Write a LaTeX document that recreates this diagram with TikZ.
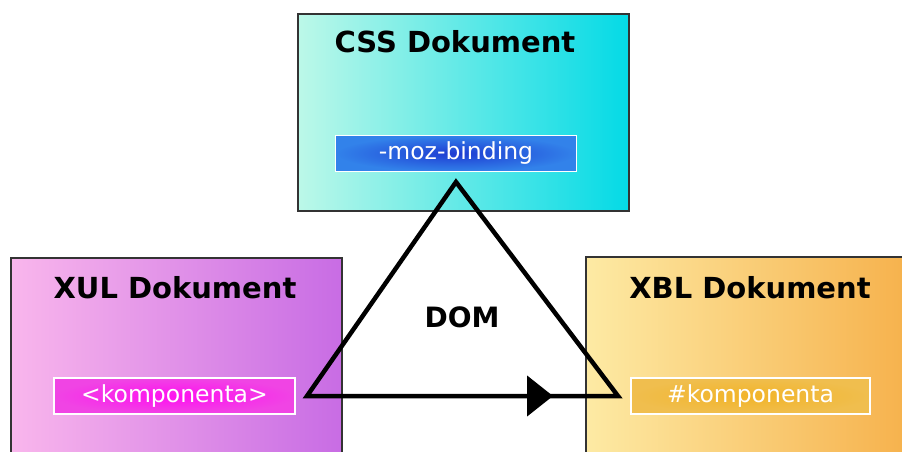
\documentclass[tikz,border=0pt]{standalone}
\usepackage{fontspec}
\setmainfont{DejaVu Sans}
\usetikzlibrary{arrows.meta}

\definecolor{cssleft}{HTML}{BCF8E8}
\definecolor{cssright}{HTML}{04DAE6}
\definecolor{xulleft}{HTML}{F9B6EC}
\definecolor{xulright}{HTML}{C86CE4}
\definecolor{xblleft}{HTML}{FDEAA4}
\definecolor{xblright}{HTML}{F6B04A}
\definecolor{bindin}{HTML}{1E3CD2}
\definecolor{bindout}{HTML}{3282EA}
\definecolor{compin}{HTML}{FF10F0}
\definecolor{compout}{HTML}{F044E4}
\definecolor{xcompin}{HTML}{F2B428}
\definecolor{xcompout}{HTML}{F0BE4E}

\tikzset{
  doc/.style={draw=black!80, line width=2pt, anchor=north west,
    minimum width=331pt, minimum height=197pt, inner sep=0pt},
  title/.style={font=\fontsize{29}{34}\selectfont\bfseries, inner sep=0pt},
  tag/.style={draw=white, line width=1.2pt, minimum width=241pt,
    minimum height=36pt, inner sep=0pt, text=white,
    font=\fontsize{23.5}{28}\selectfont},
  edge/.style={line width=4.5pt, line join=miter}
}

\begin{document}
\begin{tikzpicture}[x=1pt,y=-1pt]
\useasboundingbox (0,0) rectangle (902,451);
\clip (0,0) rectangle (902,451);

% the three documents
\node[doc, left color=cssleft, right color=cssright] (css) at (297,13) {};
\node[doc, left color=xulleft, right color=xulright, minimum height=230pt] (xul) at (10,257) {};
\node[doc, left color=xblleft, right color=xblright, minimum height=230pt] (xbl) at (585,256) {};

\node[title] (csstitle) at (455,42) {CSS Dokument};
\node[title] (xultitle) at (175,288) {XUL Dokument};
\node[title] (xbltitle) at (750,288) {XBL Dokument};

% parts inside them
\node[tag, inner color=bindin, outer color=bindout] (bind) at (456,153.5) {-moz-binding};
\node[tag, inner color=compin, outer color=compout] (comp) at (174.5,396) {<komponenta>};
\node[tag, inner color=xcompin, outer color=xcompout, minimum width=239pt] (xcomp) at (750.5,396) {\#komponenta};

% DOM triangle
\coordinate (top) at (456,182);
\coordinate (left) at (307,396);
\coordinate (right) at (618,396);
\coordinate (tip) at (553,396);
\draw[edge] (left) -- (top) -- (right) -- cycle;
\draw[edge, -{Triangle[length=26pt,width=40pt]}] (left) -- (tip);
\node[title, font=\fontsize{28}{33}\selectfont\bfseries] (dom) at (462,317) {DOM};

\end{tikzpicture}
\end{document}
